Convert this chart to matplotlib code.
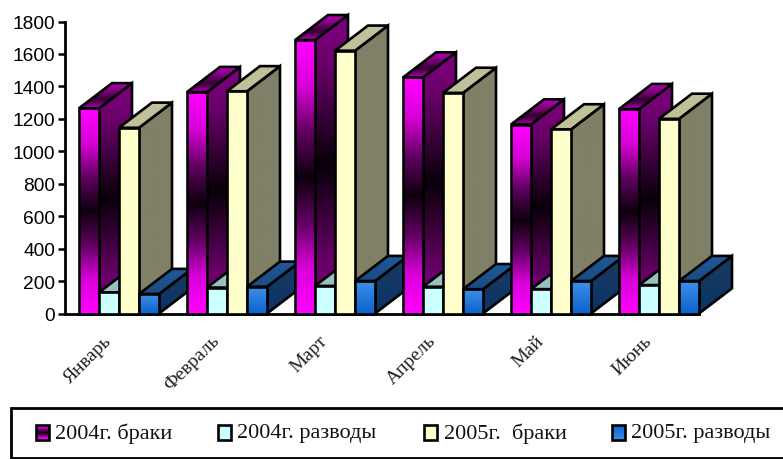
import numpy as np
import matplotlib
matplotlib.use('Agg')
import matplotlib.pyplot as plt
from matplotlib.colors import LinearSegmentedColormap
from matplotlib.patches import Polygon, Rectangle
from matplotlib.transforms import ScaledTranslation

months = ['Январь', 'Февраль', 'Март', 'Апрель', 'Май', 'Июнь']
labels = ['2004г. браки', '2004г. разводы', '2005г.  браки', '2005г. разводы']
brak_2004 = [1265, 1365, 1685, 1455, 1165, 1260]
razv_2004 = [130, 160, 170, 165, 150, 175]
brak_2005 = [1145, 1370, 1620, 1360, 1135, 1200]
razv_2005 = [120, 165, 200, 150, 200, 200]
yticks = [0, 200, 400, 600, 800, 1000, 1200, 1400, 1600, 1800]

bar_w = 20 / 108
depth_x = 33 / 108
depth_y = 155

# front, side, top colours for each series
magenta = ['#ff00ff', '#d800d8', '#600060', '#0c000c', '#600060', '#d800d8', '#ff00ff']
purple = ['#800080', '#680068', '#380038', '#080008', '#380038', '#680068', '#800080']
purple_top = ['#b000b0', '#300030', '#800080', '#c000c0']
styles = [
    (magenta, purple, purple_top),
    (['#ccffff', '#ccffff'], ['#669999', '#669999'], ['#99c0c0', '#99c0c0']),
    (['#ffffcc', '#ffffcc'], ['#808066', '#808066'], ['#c0c099', '#c0c099']),
    (['#0a62cc', '#3d8fe8'], ['#0a3466', '#1a3a60'], ['#1a4a80', '#1f5a9e']),
]
series = [brak_2004, razv_2004, brak_2005, razv_2005]


def grad_poly(ax, verts, colours, zorder):
    cmap = LinearSegmentedColormap.from_list('g', colours)
    xs = [v[0] for v in verts]
    ys = [v[1] for v in verts]
    im = ax.imshow(np.linspace(0, 1, 128).reshape(-1, 1), cmap=cmap, aspect='auto',
                   extent=(min(xs), max(xs), min(ys), max(ys)), origin='lower',
                   zorder=zorder, interpolation='bilinear')
    poly = Polygon(verts, closed=True, fc='none', ec='black', lw=1.9, zorder=zorder + 0.5,
                   joinstyle='miter', clip_on=False)
    ax.add_patch(poly)
    im.set_clip_path(Polygon(verts, closed=True, transform=ax.transData))


fig = plt.figure(figsize=(7.83, 4.6), dpi=100)
# axes run to the top and right edge of the figure so the 3d depth is not cut off
ax = fig.add_axes([65 / 783, 1 - 314.5 / 460, 718 / 783, 314.5 / 460])
ax.patch.set_alpha(0)

z = 3
for i in range(len(months)):
    for j, vals in enumerate(series):
        v = vals[i]
        x0 = i - 2 * bar_w + j * bar_w
        x1 = x0 + bar_w
        front, side, top = styles[j]
        grad_poly(ax, [(x1, 0), (x1 + depth_x, depth_y), (x1 + depth_x, v + depth_y), (x1, v)], side, z)
        grad_poly(ax, [(x0, v), (x1, v), (x1 + depth_x, v + depth_y), (x0 + depth_x, v + depth_y)], top, z + 1)
        grad_poly(ax, [(x0, 0), (x1, 0), (x1, v), (x0, v)], front, z + 2)
        z += 3

ax.set_xlim(-0.5, -0.5 + 718 / 108)
ax.set_ylim(0, 1800 * 314.5 / 292)
ax.set_xticks(range(len(months)))
ax.set_xticklabels(months, rotation=45, ha='right', rotation_mode='anchor',
                   family='Liberation Serif', fontsize=14, color='#222222')
ax.tick_params(axis='x', length=0, pad=13)
shift = ScaledTranslation(-16 / 100, 0, fig.dpi_scale_trans)
for lab in ax.get_xticklabels():
    lab.set_transform(lab.get_transform() + shift)
ax.set_yticks(yticks)
ax.tick_params(axis='y', length=5, width=1.8, pad=2, labelsize=13.8)
for lab in ax.get_yticklabels():
    lab.set_family('Liberation Sans')
ax.spines['top'].set_visible(False)
ax.spines['right'].set_visible(False)
ax.spines['left'].set_linewidth(2)
ax.spines['bottom'].set_linewidth(2)
ax.spines['left'].set_bounds(0, 1800)
ax.spines['bottom'].set_bounds(-0.5, 5.37)

# legend box, laid out in pixels
leg = fig.add_axes([0, 0, 1, 1])
leg.patch.set_alpha(0)
leg.set_xticks([])
leg.set_yticks([])
for sp in leg.spines.values():
    sp.set_visible(False)
leg.add_patch(Rectangle((11, 409), 790, 50, fc='white', ec='black', lw=2))
swatch_x = [36, 218, 424, 612]
text_x = [55, 237, 444, 631]
for sx, tx, lab, st in zip(swatch_x, text_x, labels, styles):
    grad_poly(leg, [(sx, 426), (sx + 13, 426), (sx + 13, 441), (sx, 441)], st[0], 3)
    leg.text(tx, 433.5, lab, family='Liberation Serif', fontsize=16, va='center', ha='left', color='#111111')
leg.set_xlim(0, 783)
leg.set_ylim(460, 0)

fig.savefig('out.png', dpi=100)
